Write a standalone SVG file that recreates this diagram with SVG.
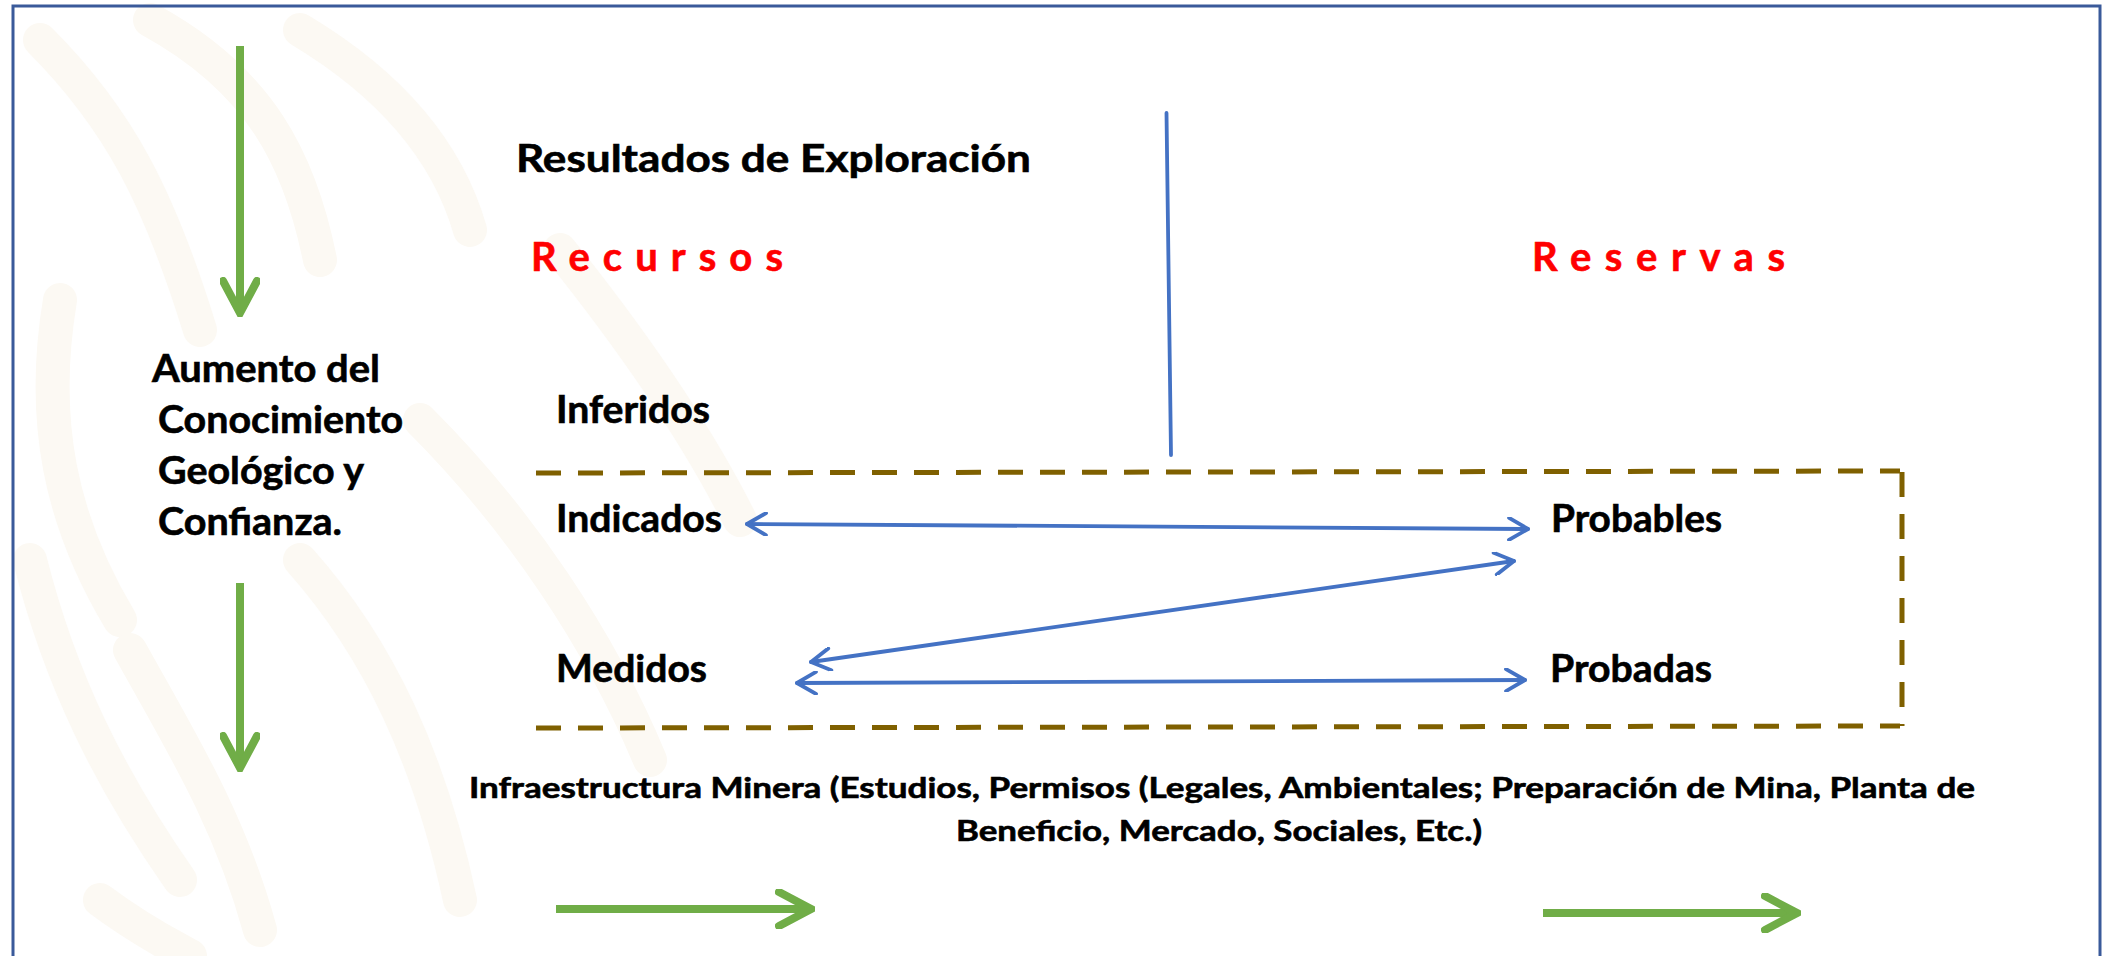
<svg xmlns="http://www.w3.org/2000/svg" width="2103" height="956" viewBox="0 0 2103 956">
  <defs>
    <style>
      .t { font-family: Lato, "Open Sans", "Liberation Sans", sans-serif; font-weight: 700; fill: #000; stroke: #000; stroke-width: 0.6; }
      .big { font-size: 38px; }
      .red { font-size: 40px; fill: #ff0000; stroke: #ff0000; }
      .small { font-size: 29px; }
      .blue { stroke: #4472c4; stroke-width: 3.8; fill: none; stroke-linecap: round; }
      .green { stroke: #70ad47; stroke-width: 8; fill: none; }
      .dash { stroke: #7f6000; stroke-width: 5; fill: none; stroke-dasharray: 25 17; }
      .wm { stroke: #fcf9f3; fill: none; stroke-linecap: round; stroke-width: 34; }
    </style>
    <marker id="bh" viewBox="0 0 24 24" refX="22" refY="12" markerWidth="24" markerHeight="24" markerUnits="userSpaceOnUse" orient="auto-start-reverse">
      <path d="M3 1 L22 12 L3 23" fill="none" stroke="#4472c4" stroke-width="3.8" stroke-linecap="round" stroke-linejoin="round"/>
    </marker>
    <marker id="gh" viewBox="0 0 40 40" refX="37" refY="20" markerWidth="40" markerHeight="40" markerUnits="userSpaceOnUse" orient="auto">
      <path d="M4 3 L36 20 L4 37" fill="none" stroke="#70ad47" stroke-width="8" stroke-linecap="round" stroke-linejoin="miter"/>
    </marker>
  </defs>

  <rect width="2103" height="956" fill="#ffffff"/>

  <!-- faint watermark background -->
  <g id="watermark">
    <path class="wm" d="M40 40 C 120 120, 160 200, 200 330"/>
    <path class="wm" d="M150 20 C 260 80, 300 160, 320 260"/>
    <path class="wm" d="M300 30 C 400 90, 450 160, 470 230"/>
    <path class="wm" d="M60 300 C 40 420, 60 520, 120 620"/>
    <path class="wm" d="M30 560 C 60 680, 110 780, 180 880"/>
    <path class="wm" d="M130 650 C 180 740, 230 820, 260 930"/>
    <path class="wm" d="M300 560 C 380 650, 430 760, 460 900"/>
    <path class="wm" d="M420 420 C 520 520, 600 640, 650 760"/>
    <path class="wm" d="M560 250 C 640 350, 700 440, 740 520"/>
    <path class="wm" d="M100 900 C 140 930, 170 945, 190 956"/>
  </g>

  <!-- outer frame -->
  <rect x="13" y="6" width="2087" height="1000" fill="none" stroke="#3a5a9a" stroke-width="3"/>

  <!-- connectors -->
  <g id="connectors">
    <line class="green" x1="240" y1="46" x2="240" y2="314" marker-end="url(#gh)"/>
    <line class="green" x1="240" y1="583" x2="240" y2="769" marker-end="url(#gh)"/>
    <line class="green" x1="556" y1="909" x2="812" y2="909" marker-end="url(#gh)"/>
    <line class="green" x1="1543" y1="913" x2="1798" y2="913" marker-end="url(#gh)"/>

    <line class="blue" x1="1166.5" y1="113" x2="1171" y2="455"/>

    <line class="blue" x1="747" y1="524" x2="1528" y2="529" marker-start="url(#bh)" marker-end="url(#bh)"/>
    <line class="blue" x1="811" y1="662" x2="1514" y2="561" marker-start="url(#bh)" marker-end="url(#bh)"/>
    <line class="blue" x1="797" y1="683" x2="1525" y2="680" marker-start="url(#bh)" marker-end="url(#bh)"/>

    <line class="dash" x1="536" y1="473" x2="1900" y2="471"/>
    <line class="dash" x1="536" y1="728" x2="1900" y2="726"/>
    <line class="dash" x1="1902" y1="472" x2="1902" y2="726"/>
  </g>

  <g id="aumento">
    <text class="t big" x="152" y="382" textLength="228" lengthAdjust="spacingAndGlyphs">Aumento del</text>
    <text class="t big" x="158" y="433" textLength="245" lengthAdjust="spacingAndGlyphs">Conocimiento</text>
    <text class="t big" x="158" y="484" textLength="206" lengthAdjust="spacingAndGlyphs">Geológico y</text>
    <text class="t big" x="158" y="535" textLength="184" lengthAdjust="spacingAndGlyphs">Confianza.</text>
  </g>

  <g id="resultados">
    <text class="t big" x="516" y="172" textLength="515" lengthAdjust="spacingAndGlyphs">Resultados de Exploración</text>
  </g>

  <g id="recursos">
    <text class="t red" x="531" y="271" textLength="252" lengthAdjust="spacing">Recursos</text>
  </g>

  <g id="reservas">
    <text class="t red" x="1532" y="271" textLength="253" lengthAdjust="spacing">Reservas</text>
  </g>

  <g id="inferidos">
    <text class="t big" x="556" y="423" textLength="154" lengthAdjust="spacingAndGlyphs">Inferidos</text>
  </g>
  <g id="indicados">
    <text class="t big" x="556" y="532" textLength="166" lengthAdjust="spacingAndGlyphs">Indicados</text>
  </g>
  <g id="medidos">
    <text class="t big" x="556" y="682" textLength="151" lengthAdjust="spacingAndGlyphs">Medidos</text>
  </g>
  <g id="probables">
    <text class="t big" x="1551" y="532" textLength="171" lengthAdjust="spacingAndGlyphs">Probables</text>
  </g>
  <g id="probadas">
    <text class="t big" x="1550" y="682" textLength="162" lengthAdjust="spacingAndGlyphs">Probadas</text>
  </g>

  <g id="infraestructura">
    <text class="t small" x="469" y="798" textLength="1506" lengthAdjust="spacingAndGlyphs">Infraestructura Minera (Estudios, Permisos (Legales, Ambientales; Preparación de Mina, Planta de</text>
    <text class="t small" x="956" y="841" textLength="526" lengthAdjust="spacingAndGlyphs">Beneficio, Mercado, Sociales, Etc.)</text>
  </g>
</svg>
